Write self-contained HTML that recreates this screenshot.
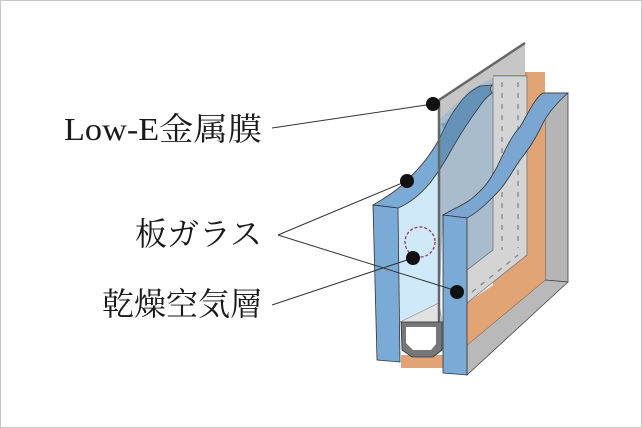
<!DOCTYPE html>
<html><head><meta charset="utf-8"><style>
html,body{margin:0;padding:0;background:#fff}
svg{display:block}
text{font-family:"Liberation Serif","Noto Serif CJK SC","Noto Serif CJK JP",serif;font-size:32px;fill:#1a1a1a}
</style></head><body>
<svg width="642" height="428" viewBox="0 0 642 428" xmlns="http://www.w3.org/2000/svg">
<rect x="0.5" y="0.5" width="641" height="427" fill="#fff" stroke="#c8c8c8"/>
<!-- gray outer frame right face -->
<polygon points="545,93 568,93 568,282 545,280" fill="#b5b5b5" stroke="#444" stroke-width="0.8"/>
<!-- gray bottom face -->
<polygon points="545,280 568,282 467,375 467,345" fill="#b9b9b9" stroke="#444" stroke-width="0.8"/>
<!-- orange -->
<polygon points="493,72 545,72 545,280 467,345 467,303 493,285" fill="#e3a475"/>
<polygon points="493,72 527,72 527,78 493,78" fill="#c98c62"/>
<!-- back region behind Low-E -->
<polygon points="439,100 525,43 525,75 493,75 493,250 467,270 467,217 443,216 439,317" fill="#a8bccb"/>
<!-- spacer -->
<polygon points="493,76 527,76 527,255 467,303 467,270 493,250" fill="#d4d4d4" stroke="#777" stroke-width="0.8"/>
<line x1="502" y1="82" x2="502" y2="250" stroke="#888" stroke-dasharray="5,6" stroke-width="1.3"/>
<line x1="518" y1="82" x2="518" y2="248" stroke="#888" stroke-dasharray="5,6" stroke-width="1.3"/>
<line x1="472" y1="292" x2="518" y2="255" stroke="#888" stroke-dasharray="5,6" stroke-width="1.3"/>
<!-- sheet top strip -->
<polygon points="439,100 525,43 525,75 493,75 493,78 470,90 439,120" fill="#c6c6c6"/>
<!-- right pane top band -->
<path d="M443,215 C455,208 463,205 470,200 C485,188 490,180 497,167 C505,150 512,135 520,127 C530,110 535,98 543,93 L568,93 C560,100 550,110 543,123 C535,140 528,150 520,160 C510,175 505,185 497,193 C485,205 478,212 467,218 Z" fill="#79a7d2" stroke="#333" stroke-width="0.8"/>
<!-- light blue cavity -->
<path d="M398,208 C415,195 425,190 430,183 C440,170 447,158 453,147 L439,120 L439,322 L400,322 Z" fill="#cfe9fa"/>
<polygon points="400,322 439,303 442,322" fill="#e2e2e2" stroke="#888" stroke-width="0.6"/>
<!-- left pane top band -->
<path d="M373,205 C390,195 400,188 407,180 C420,168 430,155 437,143 C445,128 450,115 457,107 C465,95 472,90 480,86 L492,85 C490,88 490,90 492,93 C485,98 482,103 477,110 C468,122 460,135 453,147 C447,158 440,170 430,183 C420,195 410,203 398,208 Z" fill="#7aaad6" stroke="#333" stroke-width="0.8"/>
<!-- darken part seen behind Low-E -->
<path d="M439,122 C445,128 450,115 457,107 C465,95 472,90 480,86 L492,85 C490,88 490,90 492,93 C485,98 482,103 477,110 C468,122 460,135 453,147 C447,158 443,165 439,172 Z" fill="#3f6685" opacity="0.35"/>
<!-- Low-E line -->
<line x1="439" y1="100" x2="525" y2="43" stroke="#666" stroke-width="2.5"/>
<line x1="439" y1="100" x2="439" y2="322" stroke="#666" stroke-width="2.5"/>
<!-- left pane front -->
<polygon points="373,205 398,208 400,362 377,360" fill="#7aaad6" stroke="#333" stroke-width="0.8"/>
<!-- orange under spacer -->
<polygon points="401,355 443,355 443,368 401,368" fill="#e3a475"/>
<!-- spacer profile bottom -->
<path d="M401,322 L442,322 L442,350 L433,357 L412,357 L402,350 Z" fill="#777" stroke="#333" stroke-width="0.8"/>
<path d="M406,327 L436,327 L436,344 L431,350 L413,350 L406,343 Z" fill="#fff"/>
<!-- right pane front -->
<polygon points="443,215 467,218 467,375 443,373" fill="#7aaad6" stroke="#333" stroke-width="0.8"/>
<!-- dashed circle -->
<circle cx="420" cy="242" r="15" fill="none" stroke="#a0306a" stroke-width="1.3" stroke-dasharray="3,2"/>
<!-- leader lines -->
<g stroke="#333" stroke-width="1">
<line x1="272" y1="128" x2="433" y2="104"/>
<line x1="278" y1="235" x2="407" y2="181"/>
<line x1="278" y1="235" x2="457" y2="291"/>
<line x1="272" y1="305" x2="413" y2="258"/>
</g>
<g fill="#111">
<circle cx="433" cy="104" r="7"/>
<circle cx="407" cy="181" r="7"/>
<circle cx="413" cy="258" r="7"/>
<circle cx="457" cy="292" r="7"/>
</g>
<text x="262" y="140" text-anchor="end" textLength="198" lengthAdjust="spacingAndGlyphs">Low-E金属膜</text>
<text x="262" y="245" text-anchor="end">板ガラス</text>
<text x="262" y="315" text-anchor="end">乾燥空気層</text>
</svg>
</body></html>
